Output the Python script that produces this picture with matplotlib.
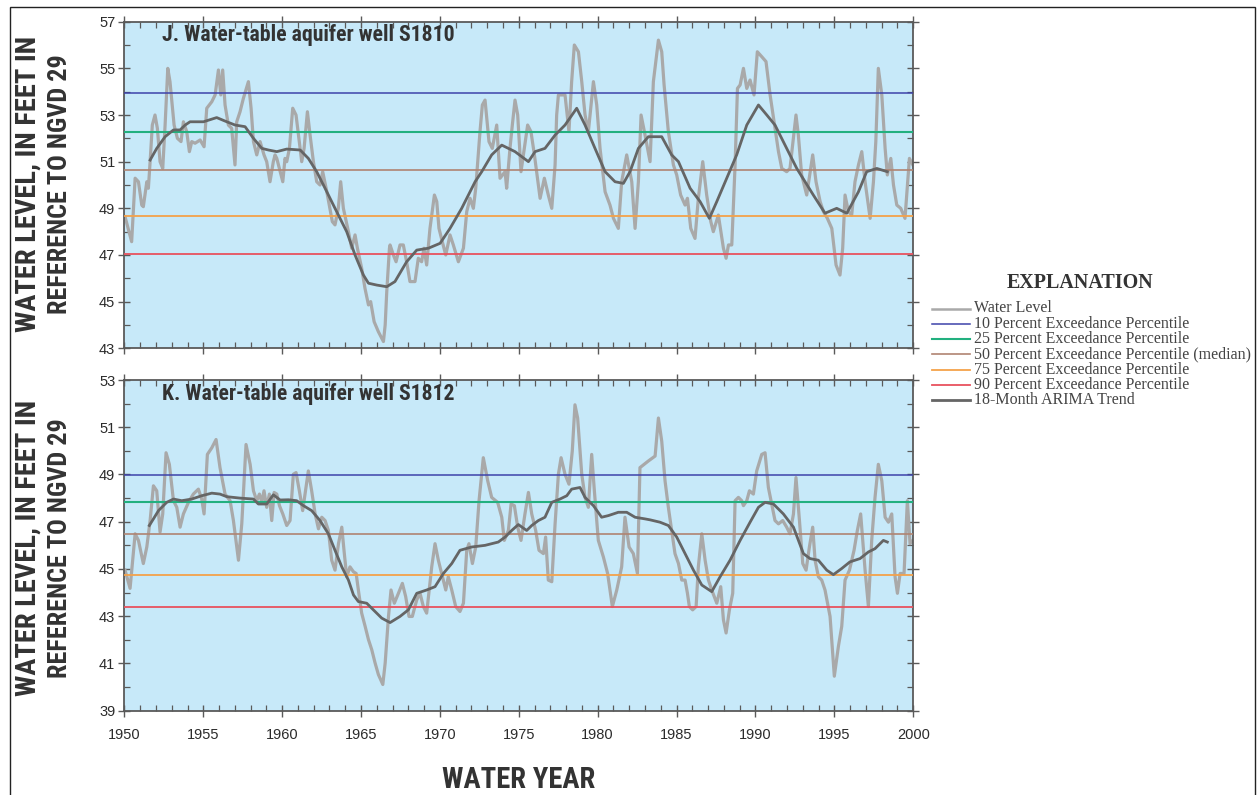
import matplotlib
matplotlib.use("Agg")
import matplotlib.pyplot as plt
from matplotlib.lines import Line2D
from matplotlib.patches import Rectangle
from matplotlib.ticker import MultipleLocator
from matplotlib import font_manager as fm
import numpy as np

# ---------------- DATA ----------------
# Panel J: well S1810
j_years = [1950.04,1950.46,1950.68,1950.89,1951.10,1951.20,1951.42,1951.52,1951.63,1951.77,1951.94,1952.09,1952.26,1952.43,1952.58,1952.75,1952.89,1953.15,1953.36,1953.59,1953.74,1953.95,1954.12,1954.27,1954.48,1954.80,1955.05,1955.22,1955.54,1955.75,1955.96,1956.11,1956.23,1956.38,1956.59,1956.80,1957.01,1957.12,1957.33,1957.54,1957.86,1958.03,1958.18,1958.39,1958.60,1958.85,1959.02,1959.23,1959.44,1959.55,1959.66,1960.04,1960.18,1960.29,1960.46,1960.67,1960.88,1961.24,1961.39,1961.60,1961.77,1961.98,1962.19,1962.40,1962.57,1962.83,1963.18,1963.35,1963.56,1963.71,1963.88,1964.20,1964.41,1964.62,1964.77,1965.04,1965.25,1965.47,1965.61,1965.83,1966.10,1966.42,1966.53,1966.63,1966.80,
           1966.84,1967.05,1967.22,1967.47,1967.68,1967.89,1968.10,1968.42,1968.63,1968.84,1968.99,1969.16,1969.37,1969.65,1969.80,1969.94,1970.15,1970.37,1970.64,1970.85,1971.17,1971.49,1971.70,1971.91,1972.12,1972.27,1972.54,1972.69,1972.86,1973.11,1973.32,1973.60,1973.81,1974.13,1974.23,1974.44,1974.59,1974.76,1974.93,1975.14,1975.35,1975.56,1975.77,1975.99,1976.35,1976.62,1976.87,1977.09,1977.30,1977.40,1977.51,1977.93,1978.18,1978.35,1978.52,1978.78,1978.99,1979.20,1979.41,1979.73,1979.94,1980.15,1980.47,1980.78,1981.00,1981.31,1981.52,1981.84,1982.16,1982.37,1982.58,1982.75,1982.96,
           1983.32,1983.53,1983.85,1984.06,1984.21,1984.48,1984.80,1985.01,1985.26,1985.54,1985.69,1985.90,1986.17,1986.38,1986.66,1986.91,1987.17,1987.33,1987.65,1987.97,1988.14,1988.29,1988.50,1988.71,1988.86,1989.03,1989.24,1989.45,1989.66,1989.91,1990.12,1990.40,1990.67,1990.93,1991.18,1991.46,1991.67,1991.98,1992.19,1992.57,1992.72,1992.93,1993.25,1993.63,1993.84,1994.10,1994.31,1994.56,1994.84,1995.11,1995.36,1995.53,1995.68,1995.89,1996.10,1996.31,1996.53,1996.74,1996.95,1997.27,1997.48,1997.63,1997.79,1998.01,1998.22,1998.36,1998.58,1998.75,1998.96,1999.21,1999.48,1999.76,1999.98]
j_level = [48.64,47.57,50.29,50.14,49.14,49.07,50.14,49.86,51.00,52.57,53.00,52.43,51.00,50.71,52.57,55.00,54.43,52.57,52.00,51.86,52.71,52.29,51.43,51.86,51.79,51.93,51.64,53.29,53.57,53.86,54.93,53.86,54.93,53.43,52.57,52.43,50.86,52.71,53.14,53.71,54.43,53.29,51.86,51.29,51.86,51.29,51.00,50.14,51.00,51.29,51.14,50.14,51.14,51.00,51.57,53.29,53.00,51.00,51.57,53.14,52.14,51.00,50.14,50.00,50.57,49.71,48.43,48.29,49.00,50.14,49.00,48.00,47.29,47.86,47.29,46.43,45.57,44.86,45.00,44.14,43.71,43.29,44.00,45.43,47.29,
           47.43,47.00,46.71,47.43,47.43,46.71,45.86,45.86,46.86,46.71,47.29,46.57,48.14,49.57,49.29,48.14,47.57,47.00,47.86,47.43,46.71,47.29,48.86,49.43,49.00,49.86,52.29,53.43,53.64,51.86,51.57,52.57,50.29,50.57,49.86,51.57,52.57,53.64,53.00,50.57,51.57,52.57,52.29,51.29,49.43,50.29,49.57,49.00,50.86,53.00,53.86,53.86,52.29,54.43,56.00,55.71,54.43,53.00,52.29,54.43,53.43,51.57,49.71,49.14,48.57,48.14,50.14,51.29,50.14,48.14,50.14,53.00,52.29,
           51.00,54.43,56.21,55.71,54.29,52.29,50.86,50.43,49.57,49.14,49.43,48.14,47.71,49.43,51.00,49.57,48.43,48.00,48.71,47.29,46.86,47.43,47.43,50.86,54.14,54.29,55.00,54.14,54.50,53.86,55.71,55.50,55.29,53.86,52.71,51.43,50.71,50.57,50.71,53.00,52.14,50.43,49.57,51.29,50.14,49.29,48.86,48.57,48.14,46.57,46.14,47.29,49.57,48.86,48.71,50.14,50.86,51.43,50.14,48.57,50.14,51.86,55.00,53.86,51.57,50.43,51.14,50.00,49.14,49.00,48.57,51.14,50.86]
j_trend_years = [1951.63,1952.05,1952.58,1953.11,1953.53,1953.85,1954.16,1955.01,1955.85,1956.49,1957.02,1957.65,1958.18,1958.71,1959.13,1959.66,1960.29,1961.14,1961.66,1962.19,1962.72,1963.35,1964.09,1964.62,1965.15,1965.47,1966.00,1966.63,1967.15,1967.89,1968.53,1969.27,1970.01,1970.64,1971.38,1972.23,1972.65,1973.28,1973.92,1974.76,1975.61,1976.03,1976.66,1977.30,1977.93,1978.67,1979.20,1979.83,1980.47,1981.10,1981.63,1982.05,1982.58,1983.21,1984.06,1984.69,1985.12,1985.86,1986.49,1987.08,1987.55,1988.18,1988.81,1989.45,1990.19,1990.72,1991.24,1991.98,1992.62,1993.67,1994.41,1995.15,1995.79,1996.53,1997.05,1997.69,1998.36]
j_trend = [51.07,51.57,52.07,52.36,52.36,52.57,52.71,52.71,52.89,52.71,52.57,52.50,52.00,51.57,51.50,51.43,51.54,51.50,51.14,50.57,49.86,49.00,48.00,47.00,46.14,45.79,45.71,45.64,45.86,46.71,47.21,47.29,47.50,48.14,49.00,50.14,50.57,51.29,51.71,51.43,51.00,51.43,51.57,52.14,52.57,53.29,52.57,51.57,50.57,50.14,50.07,50.57,51.57,52.07,52.07,51.29,51.00,49.86,49.29,48.57,49.29,50.29,51.29,52.57,53.43,53.00,52.57,51.57,50.71,49.57,48.79,49.00,48.79,49.71,50.57,50.71,50.57]
j_pct = [53.93, 52.27, 50.63, 48.67, 47.03]
j_yticks = [43, 45, 47, 49, 51, 53, 55, 57]

# Panel K: well S1812
k_years = [1950.04,1950.36,1950.68,1950.89,1951.20,1951.42,1951.63,1951.84,1952.05,1952.26,1952.43,1952.64,1952.85,1953.11,1953.32,1953.53,1953.74,1954.06,1954.37,1954.69,1954.90,1955.05,1955.26,1955.54,1955.81,1956.06,1956.38,1956.70,1956.91,1957.23,1957.44,1957.71,1957.97,1958.18,1958.39,1958.56,1958.71,1958.85,1959.02,1959.19,1959.34,1959.49,1959.66,1959.83,1960.04,1960.29,1960.50,1960.71,1960.88,1961.09,1961.30,1961.45,1961.66,1961.87,1962.09,1962.30,1962.51,1962.72,1962.93,1963.14,1963.35,1963.57,1963.78,1963.92,1964.09,1964.30,1964.52,1964.69,1964.83,1965.04,1965.26,1965.47,1965.68,1965.89,1966.10,1966.38,1966.53,1966.74,
           1966.90,1967.11,1967.37,1967.62,1967.83,1968.04,1968.25,1968.53,1968.74,1968.95,1969.16,1969.48,1969.69,1969.90,1970.11,1970.37,1970.53,1970.75,1971.00,1971.27,1971.49,1971.70,1971.84,1972.06,1972.27,1972.48,1972.75,1973.03,1973.28,1973.66,1973.92,1974.08,1974.34,1974.51,1974.72,1974.93,1975.14,1975.39,1975.61,1975.82,1976.07,1976.28,1976.56,1976.70,1976.87,1977.09,1977.30,1977.51,1977.68,1977.93,1978.18,1978.39,1978.56,1978.73,1978.99,1979.20,1979.41,1979.62,1979.79,1980.04,1980.36,1980.63,1980.93,1981.21,1981.52,1981.73,1981.99,1982.26,1982.52,1982.68,1983.21,
           1983.64,1983.85,1984.06,1984.27,1984.48,1984.69,1984.90,1985.12,1985.33,1985.54,1985.69,1985.81,1986.02,1986.24,1986.38,1986.60,1986.81,1987.02,1987.23,1987.55,1987.80,1987.97,1988.14,1988.35,1988.56,1988.71,1988.92,1989.13,1989.24,1989.45,1989.62,1989.87,1990.08,1990.40,1990.61,1990.82,1991.03,1991.24,1991.46,1991.73,1991.98,1992.19,1992.41,1992.57,1992.79,1993.00,1993.21,1993.42,1993.63,1993.78,1993.99,1994.20,1994.41,1994.73,1995.00,1995.26,1995.47,1995.68,1995.96,1996.25,1996.46,1996.67,1996.95,1997.16,1997.37,1997.58,1997.79,1998.01,1998.22,1998.43,1998.64,1998.85,1999.00,1999.17,1999.42,1999.63,1999.80,1999.98]
k_level = [44.95,44.18,46.49,46.21,45.23,45.93,47.05,48.52,48.31,46.56,47.33,49.92,49.43,47.89,47.61,46.77,47.33,47.82,48.17,48.38,47.96,47.33,49.85,50.13,50.48,49.29,48.17,47.89,47.05,45.37,46.91,50.27,49.43,48.31,47.89,48.17,47.82,48.31,47.61,48.17,47.05,48.24,48.17,47.68,47.33,46.84,47.05,49.01,49.08,48.31,47.47,48.17,49.15,48.31,47.33,46.70,47.19,47.05,46.63,45.37,44.95,46.07,46.77,45.79,44.67,45.09,44.88,44.81,44.11,43.13,42.57,42.01,41.58,41.02,40.53,40.11,41.02,42.99,
           44.11,43.55,43.97,44.39,43.83,42.99,42.99,43.69,43.97,43.41,43.13,45.09,46.07,45.37,44.81,44.11,44.67,44.11,43.41,43.20,43.55,45.79,46.07,45.23,45.93,47.89,49.71,48.73,48.03,47.82,47.19,46.21,46.63,47.75,47.68,46.77,46.21,47.33,48.24,47.33,46.63,45.79,45.65,46.35,44.53,44.46,46.91,49.01,49.71,49.01,48.59,49.99,51.95,51.39,49.01,48.03,47.61,49.85,48.31,46.21,45.51,44.81,43.41,44.11,45.09,47.19,45.93,45.65,44.81,49.29,49.57,
           49.78,51.39,50.41,48.73,47.61,46.63,45.65,45.23,44.53,44.53,43.97,43.41,43.27,43.41,45.09,46.49,45.37,44.53,44.11,43.55,44.25,42.85,42.29,43.27,43.97,47.89,48.03,47.89,47.68,47.89,48.31,48.17,49.15,49.85,49.92,48.45,47.75,47.05,46.91,47.05,46.77,46.49,47.33,48.87,47.05,45.23,44.95,45.93,46.77,45.37,44.67,44.53,44.11,42.99,40.46,41.73,42.57,44.53,44.95,45.79,46.63,47.33,44.95,43.41,46.21,48.03,49.43,48.73,47.19,46.98,47.33,44.67,43.97,44.81,44.81,47.89,46.07,46.21]
k_trend_years = [1951.58,1951.84,1952.16,1952.68,1953.11,1953.63,1954.27,1954.90,1955.54,1956.06,1956.49,1957.33,1958.18,1958.49,1959.02,1959.44,1959.87,1960.40,1960.92,1961.35,1961.87,1962.40,1962.93,1963.35,1963.78,1964.20,1964.52,1964.83,1965.36,1965.78,1966.31,1966.84,1967.47,1968.00,1968.53,1969.16,1969.69,1970.22,1970.75,1971.27,1972.01,1972.86,1973.70,1974.13,1974.55,1974.97,1975.50,1975.82,1976.24,1976.66,1977.09,1977.61,1978.04,1978.35,1978.88,1979.20,1979.73,1980.25,1980.68,1981.31,1981.84,1982.37,1983.00,1983.32,1983.95,1984.48,1985.01,1985.54,1986.07,1986.60,1987.23,1987.76,1988.39,1989.03,1989.66,1990.19,1990.61,1991.14,1991.77,1992.41,1993.04,1993.46,1993.99,1994.52,1994.94,1995.47,1995.99,1996.63,1997.16,1997.58,1998.11,1998.36]
k_trend = [46.84,47.12,47.47,47.82,47.96,47.89,47.96,48.10,48.21,48.17,48.06,48.00,47.96,47.75,47.75,48.14,47.92,47.93,47.89,47.68,47.47,47.05,46.49,45.79,45.09,44.53,43.90,43.62,43.55,43.27,42.92,42.73,42.99,43.27,43.97,44.11,44.25,44.81,45.23,45.79,45.93,46.00,46.14,46.35,46.63,46.88,46.63,46.84,47.05,47.19,47.82,47.96,48.10,48.38,48.45,48.03,47.68,47.19,47.26,47.40,47.40,47.19,47.12,47.08,46.98,46.84,46.35,45.65,44.95,44.32,44.04,44.67,45.37,46.21,46.98,47.61,47.82,47.75,47.33,46.77,45.65,45.44,45.37,44.95,44.76,45.02,45.30,45.44,45.72,45.86,46.21,46.14]
k_pct = [48.96, 47.82, 46.50, 44.73, 43.41]
k_yticks = [39, 41, 43, 45, 47, 49, 51, 53]

x_ticks = [1950, 1955, 1960, 1965, 1970, 1975, 1980, 1985, 1990, 1995, 2000]
panel_titles = ["J. Water-table aquifer well S1810", "K. Water-table aquifer well S1812"]
legend_labels = ["Water Level",
                 "10 Percent Exceedance Percentile",
                 "25 Percent Exceedance Percentile",
                 "50 Percent Exceedance Percentile (median)",
                 "75 Percent Exceedance Percentile",
                 "90 Percent Exceedance Percentile",
                 "18-Month ARIMA Trend"]

# ---------------- FONTS ----------------
def pick_condensed():
    names = {f.name for f in fm.fontManager.ttflist}
    for n in ["Liberation Sans Narrow", "Roboto Condensed", "Open Sans Condensed",
              "Noto Sans Condensed", "DejaVu Sans Condensed", "Arial Narrow"]:
        if n in names:
            return dict(family=[n, "DejaVu Sans"])
    for fam in ["Roboto", "Noto Sans", "Open Sans", "DejaVu Sans"]:
        try:
            path = fm.findfont(fm.FontProperties(family=fam, stretch="condensed", weight="bold"),
                               fallback_to_default=False)
            if "ondensed" in path:
                return dict(family=[fam, "DejaVu Sans"], fontstretch="condensed")
        except Exception:
            pass
    return dict(family=["Liberation Sans", "DejaVu Sans"])

COND = pick_condensed()
SERIF = dict(family=["Liberation Serif", "DejaVu Serif"])

# ---------------- STYLE ----------------
C_WATER = "#a9a9a9"
C_TREND = "#656565"
PCT_COLORS = ["#3d42aa", "#22b07f", "#b08472", "#f4a24a", "#e8525e"]
PCT_LW = [1.1, 1.5, 1.2, 1.3, 1.3]
BG = "#c7e9f9"
SPINE = "#5a5a5a"
TXT = "#333333"

W, H = 1259, 795
fig = plt.figure(figsize=(W / 100, H / 100), dpi=100)
fig.patch.set_facecolor("white")

def fx(px):
    return px / W

def fy(py):
    return 1 - py / H

ax1 = fig.add_axes([fx(124.4), fy(348.3), fx(913.2) - fx(124.4), fy(21.7) - fy(348.3)])
ax2 = fig.add_axes([fx(124.4), fy(710.7), fx(913.2) - fx(124.4), fy(380.0) - fy(710.7)])

fitted = []  # (text artist, target length in px, vertical?)

panels = [
    (ax1, j_years, j_level, j_trend_years, j_trend, j_pct, j_yticks, panel_titles[0], 41),
    (ax2, k_years, k_level, k_trend_years, k_trend, k_pct, k_yticks, panel_titles[1], 400),
]

for ax, yrs, lvl, tyrs, tr, pct, yt, title, base_y in panels:
    ax.set_facecolor(BG)
    ax.plot(yrs, lvl, color=C_WATER, lw=2.3, zorder=2, solid_joinstyle="round")
    for v, c, lw in zip(pct, PCT_COLORS, PCT_LW):
        ax.axhline(v, color=c, lw=lw, zorder=3)
    ax.plot(tyrs, tr, color=C_TREND, lw=2.0, zorder=4, solid_joinstyle="round")
    ax.set_xlim(1950, 2000)
    ax.set_ylim(yt[0], yt[-1])
    ax.set_yticks(yt)
    ax.set_xticks(x_ticks)
    ax.xaxis.set_minor_locator(MultipleLocator(1))
    ax.yaxis.set_minor_locator(MultipleLocator(1))
    ax.tick_params(which="major", direction="inout", length=9, width=1.0,
                   color=SPINE, labelcolor="#2b2b2b", top=True, right=True,
                   labelsize=10.5, pad=2)
    ax.tick_params(axis="x", which="major", pad=8)
    ax.tick_params(which="minor", direction="in", length=4, width=0.9,
                   color=SPINE, top=True, right=True)
    for lab in ax.get_xticklabels() + ax.get_yticklabels():
        lab.set_fontfamily(["Liberation Sans", "DejaVu Sans"])
    for s in ax.spines.values():
        s.set_color(SPINE)
        s.set_linewidth(1.3)
    t = fig.text(fx(162), fy(base_y), title, ha="left", va="baseline",
                 fontsize=14, fontweight="bold", color=TXT, **COND)
    fitted.append((t, 294, False))

ax1.tick_params(axis="x", labelbottom=False)

# y-axis labels (two lines each)
for cy in (184, 548):
    t1 = fig.text(fx(28), fy(cy), "WATER LEVEL, IN FEET IN", rotation=90, ha="center", va="center",
                  fontsize=18, fontweight="bold", color=TXT, **COND)
    t2 = fig.text(fx(60), fy(cy), "REFERENCE TO NGVD 29", rotation=90, ha="center", va="center",
                  fontsize=18, fontweight="bold", color=TXT, **COND)
    fitted.append((t1, 296, True))
    fitted.append((t2, 261, True))

tx = fig.text(fx(519), fy(780), "WATER YEAR", ha="center", va="center",
              fontsize=19, fontweight="bold", color=TXT, **COND)
fitted.append((tx, 153, False))

# Explanation (legend)
te = fig.text(fx(1080), fy(283), "EXPLANATION", ha="center", va="center",
              fontsize=15.5, fontweight="bold", color=TXT, **SERIF)
fitted.append((te, 146, False))
leg_colors = [C_WATER] + PCT_COLORS + [C_TREND]
leg_lw = [1.8] + PCT_LW + [2.0]
leg_texts = []
for i, (lab, c, lw) in enumerate(zip(legend_labels, leg_colors, leg_lw)):
    yy = fy(308.5 + i * 15.3)
    fig.add_artist(Line2D([fx(932), fx(970)], [yy, yy], transform=fig.transFigure,
                          color=c, lw=lw))
    tl = fig.text(fx(974), yy, lab, ha="left", va="center", fontsize=11,
                  color="#444444", **SERIF)
    leg_texts.append(tl)

# outer frame
fig.add_artist(Rectangle((fx(10), -0.05), fx(1255) - fx(10), fy(7) + 0.05,
                         transform=fig.transFigure, fill=False, ec="#222222",
                         lw=1.0, clip_on=False))

# fit text sizes to the measured lengths in the reference
fig.canvas.draw()
r = fig.canvas.get_renderer()
for t, target, vertical in fitted:
    bb = t.get_window_extent(r)
    cur = bb.height if vertical else bb.width
    if cur > 0:
        t.set_fontsize(t.get_fontsize() * target / cur)
bb = leg_texts[3].get_window_extent(r)
if bb.width > 0:
    s = 278.0 / bb.width
    for tl in leg_texts:
        tl.set_fontsize(tl.get_fontsize() * s)

fig.savefig("out.png", dpi=100)
